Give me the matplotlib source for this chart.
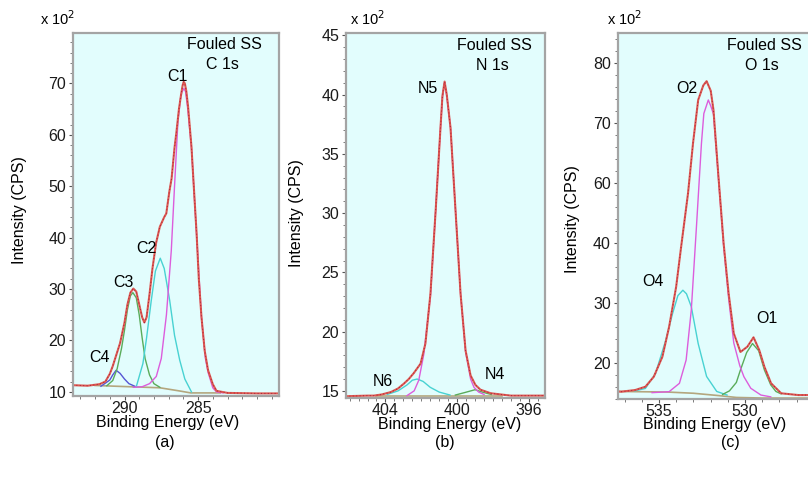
import numpy as np
import matplotlib
matplotlib.use("Agg")
import matplotlib.pyplot as plt
from matplotlib.ticker import MultipleLocator, FixedLocator

plt.rcParams["font.family"] = ["Liberation Sans", "DejaVu Sans"]

# ---------------- panel (a): C 1s ----------------
A_ENV_E = [293.5, 292.5, 291.7, 291.3, 291.0, 290.8, 290.6, 290.3, 290.0, 289.8, 289.6,
           289.4, 289.2, 289.0, 288.8, 288.65, 288.5, 288.3, 288.1, 287.85, 287.6, 287.3,
           287.16, 286.95, 286.8, 286.6, 286.48, 286.3, 286.14, 286.05, 285.98, 285.9,
           285.8, 285.68, 285.45, 285.25, 285.1, 284.95, 284.77, 284.55, 284.32, 284.0,
           283.75, 283.0, 281.0, 279.5]
A_ENV_I = [11.3, 11.2, 11.5, 12.0, 13.5, 15.0, 16.8, 19.5, 23.5, 27.0, 29.3,
           30.1, 29.5, 27.0, 24.5, 23.5, 24.5, 29.0, 34.0, 39.0, 42.1, 44.0,
           44.7, 49.0, 51.5, 57.5, 60.3, 65.0, 68.1, 69.6, 70.3, 70.0,
           68.5, 65.5, 57.7, 48.0, 40.8, 32.0, 24.6, 18.0, 14.2, 11.5,
           10.2, 9.8, 9.7, 9.7]
A_C1_E = [289.4, 288.8, 288.3, 287.84, 287.5, 287.15, 286.82, 286.6, 286.37, 286.2, 286.1,
          285.96, 285.85, 285.7, 285.45, 285.1, 284.77, 284.5, 284.32, 284.0, 283.75, 283.3]
A_C1_I = [10.9, 11.0, 11.6, 13.0, 16.5, 25.0, 37.5, 50.0, 62.5, 67.0, 68.3,
          69.0, 68.4, 65.0, 57.5, 40.5, 24.5, 16.5, 13.8, 10.8, 10.0, 9.8]
A_C2_E = [289.2, 288.75, 288.5, 288.18, 287.9, 287.57, 287.3, 286.93, 286.6, 286.25, 285.9, 285.45]
A_C2_I = [11.0, 15.5, 20.5, 27.8, 33.5, 36.0, 34.0, 27.8, 21.0, 16.2, 12.5, 10.0]
A_C3_E = [291.2, 290.8, 290.5, 290.2, 290.0, 289.8, 289.6, 289.43, 289.2, 289.0, 288.8,
          288.6, 288.3, 288.0, 287.6]
A_C3_I = [11.2, 12.2, 14.5, 18.5, 22.0, 26.0, 28.7, 29.3, 28.3, 25.0, 20.5,
          16.5, 13.3, 11.6, 10.9]
A_C4_E = [291.6, 291.0, 290.8, 290.57, 290.3, 290.0, 289.7, 289.3]
A_C4_I = [11.1, 12.3, 13.3, 14.2, 13.6, 12.5, 11.6, 11.1]
A_BG_E = [292.0, 290.6, 287.6, 286.3, 285.5, 283.5]
A_BG_I = [11.25, 11.1, 10.8, 10.2, 9.8, 9.8]

# ---------------- panel (b): N 1s ----------------
B_ENV_E = [406.2, 405.0, 404.65, 404.2, 403.7, 403.3, 402.98, 402.7, 402.42, 402.04,
           401.77, 401.49, 401.2, 400.93, 400.82, 400.7, 400.58, 400.37, 400.09, 399.81,
           399.53, 399.25, 398.98, 398.7, 398.13, 397.0, 395.1]
B_ENV_I = [14.55, 14.6, 14.6, 14.7, 14.9, 15.2, 15.6, 16.0, 16.5, 17.3,
           19.0, 23.2, 30.2, 37.2, 39.9, 41.1, 40.0, 37.2, 30.2, 23.2,
           18.4, 16.3, 15.5, 15.1, 14.8, 14.6, 14.6]
B_N5_E = [402.8, 402.4, 402.14, 401.86, 401.49, 401.2, 400.93, 400.82, 400.7, 400.58,
          400.37, 400.09, 399.81, 399.53, 399.25, 399.06, 398.8, 398.5]
B_N5_I = [14.6, 15.0, 15.9, 18.1, 23.0, 30.2, 37.2, 39.8, 41.0, 39.9,
          37.2, 30.2, 23.2, 18.3, 16.0, 15.3, 14.9, 14.7]
B_N6_E = [403.9, 403.3, 402.8, 402.5, 402.23, 401.9, 401.5, 401.0, 400.4]
B_N6_I = [14.7, 15.0, 15.5, 15.9, 16.0, 15.8, 15.3, 14.9, 14.65]
B_N4_E = [400.1, 399.6, 399.0, 398.6, 398.1]
B_N4_I = [14.65, 14.85, 15.1, 14.9, 14.7]
B_BG_E = [404.5, 397.5]
B_BG_I = [14.6, 14.6]

# ---------------- panel (c): O 1s ----------------
C_ENV_E = [537.4, 537.2, 536.38, 535.79, 535.3, 534.8, 534.41, 534.0, 533.71, 533.31,
           533.02, 532.72, 532.42, 532.23, 531.99, 531.83, 531.54, 531.24, 530.95, 530.65,
           530.26, 529.86, 529.5, 529.17, 528.87, 528.48, 527.89, 526.9, 526.1]
C_ENV_I = [15.2, 15.16, 15.44, 15.99, 17.66, 21.0, 26.0, 32.69, 39.37, 48.28,
           56.63, 63.86, 66.3, 67.0, 65.4, 62.19, 51.05, 39.93, 31.59, 24.91,
           21.79, 22.67, 24.24, 22.12, 19.33, 16.56, 14.89, 14.6, 14.6]
C_O2_E = [535.4, 534.41, 533.81, 533.42, 533.12, 532.82, 532.53, 532.39, 532.13, 531.98,
          531.83, 531.54, 531.24, 530.95, 530.65, 530.3, 530.06, 529.66, 529.07, 528.5]
C_O2_I = [15.0, 15.16, 16.56, 20.45, 28.8, 42.7, 56.6, 61.6, 63.86, 62.8,
          61.5, 50.8, 39.5, 30.8, 23.3, 19.5, 17.66, 15.73, 14.6, 14.3]
C_O4_E = [536.4, 535.79, 535.2, 534.6, 534.21, 533.9, 533.61, 533.4, 533.12, 532.72,
          532.23, 531.64, 531.04]
C_O4_I = [15.3, 15.7, 18.2, 23.8, 28.2, 31.2, 32.1, 31.5, 29.35, 23.2,
          17.7, 15.2, 14.6]
C_O1_E = [531.3, 530.9, 530.5, 530.26, 529.9, 529.56, 529.2, 528.87, 528.5, 528.2, 527.9]
C_O1_I = [14.7, 15.3, 16.7, 18.8, 21.7, 23.2, 22.0, 18.8, 16.3, 15.2, 14.8]
C_BG_E = [537.4, 534.5, 533.0, 531.5, 530.5, 529.0, 526.1]
C_BG_I = [15.2, 15.1, 14.9, 14.5, 14.2, 14.1, 14.1]
# tick labels as printed on panel (c)
C_YTICK_POS = [20, 30, 40, 50, 60, 70]
C_YTICK_LAB = ["20", "30", "40", "60", "70", "80"]

BG_FILL = "#e2fdfd"
RED = "#dd5a52"
DARKRED = "#a8203c"
MAGENTA = "#dc5ddc"
CYAN = "#48d2d2"
GREEN = "#5aac5a"
BLUE = "#5656d4"
TAN = "#b4a67e"
FS = 11.5

W, H = 808, 483
fig = plt.figure(figsize=(W / 100, H / 100), dpi=100)


def px_axes(left, top, right, bottom):
    return fig.add_axes([left / W, 1 - bottom / H, (right - left) / W, (bottom - top) / H])


def style(ax, xlim, ylim, xmaj, xmin, ymin_step):
    ax.set_facecolor(BG_FILL)
    ax.set_xlim(*xlim)
    ax.set_ylim(*ylim)
    ax.xaxis.set_major_locator(FixedLocator(xmaj))
    ax.xaxis.set_minor_locator(MultipleLocator(xmin))
    ax.yaxis.set_minor_locator(MultipleLocator(ymin_step))
    for s in ax.spines.values():
        s.set_color("#a4a4a4")
        s.set_linewidth(1.6)
    ax.tick_params(which="major", direction="out", length=3, width=0.8, color="#555555",
                   labelsize=FS, labelcolor="#1a1a1a")
    ax.tick_params(axis="x", which="major", pad=0.5)
    ax.tick_params(axis="y", which="major", pad=2)
    ax.tick_params(which="minor", direction="out", length=2, width=0.6, color="#666666")


def draw(ax, env, comps, bg):
    ax.plot(bg[0], bg[1], color=TAN, lw=1.2)
    for (e, i), c in comps:
        ax.plot(e, i, color=c, lw=1.0)
    ax.plot(env[0], env[1], color=RED, lw=1.5)
    ax.plot(env[0], env[1], color=DARKRED, lw=0.7, ls=(0, (1, 2.5)))


# (a)
axa = px_axes(73, 33, 279, 396)
draw(axa, (A_ENV_E, A_ENV_I),
     [((A_C4_E, A_C4_I), BLUE), ((A_C3_E, A_C3_I), GREEN),
      ((A_C2_E, A_C2_I), CYAN), ((A_C1_E, A_C1_I), MAGENTA)],
     (A_BG_E, A_BG_I))
style(axa, (293.5, 279.5), (9.2, 79.8), [290, 285], 1, 2)
axa.set_yticks([10, 20, 30, 40, 50, 60, 70])
for lab, x, y in [("C1", 286.39, 71.4), ("C2", 288.5, 37.8), ("C3", 290.07, 31.3), ("C4", 291.7, 16.75)]:
    axa.text(x, y, lab, fontsize=FS, ha="center", va="center")

# (b)
axb = px_axes(346, 33, 545, 398)
draw(axb, (B_ENV_E, B_ENV_I),
     [((B_N6_E, B_N6_I), CYAN), ((B_N4_E, B_N4_I), GREEN), ((B_N5_E, B_N5_I), MAGENTA)],
     (B_BG_E, B_BG_I))
style(axb, (406.2, 395.1), (14.4, 45.2), [404, 400, 396], 0.5, 1)
axb.set_yticks([15, 20, 25, 30, 35, 40, 45])
for lab, x, y in [("N5", 401.65, 40.5), ("N6", 404.17, 15.8), ("N4", 397.9, 16.4)]:
    axb.text(x, y, lab, fontsize=FS, ha="center", va="center")

# (c)
axc = px_axes(617.7, 33, 812, 399)
draw(axc, (C_ENV_E, C_ENV_I),
     [((C_O4_E, C_O4_I), CYAN), ((C_O1_E, C_O1_I), GREEN), ((C_O2_E, C_O2_I), MAGENTA)],
     (C_BG_E, C_BG_I))
style(axc, (537.4, 526.1), (13.94, 75.04), [535, 530], 1, 2)
axc.set_yticks(C_YTICK_POS)
axc.set_yticklabels(C_YTICK_LAB)
for lab, x, y in [("O2", 533.36, 65.7), ("O4", 535.34, 33.6), ("O1", 528.73, 27.3)]:
    axc.text(x, y, lab, fontsize=FS, ha="center", va="center")

# panel headers, axis labels
for ax, core, xf in [(axa, "C 1s", 0.733), (axb, "N 1s", 0.744), (axc, "O 1s", 0.753)]:
    ax.text(xf, 0.967, "Fouled SS", transform=ax.transAxes, fontsize=FS, ha="center", va="center")
    ax.text(xf - 0.01, 0.912, core, transform=ax.transAxes, fontsize=FS, ha="center", va="center")

for xc in [58, 368, 625]:
    fig.text(xc / W, 1 - 19 / H, r"x 10$^2$", fontsize=FS - 1, ha="center", va="center")
for xc, yc in [(20, 210), (297, 213), (572, 219)]:
    fig.text(xc / W, 1 - yc / H, "Intensity (CPS)", rotation=90, fontsize=FS, ha="center", va="center")
for xc, yc in [(168, 422), (450, 424), (715, 425)]:
    fig.text(xc / W, 1 - yc / H, "Binding Energy (eV)", fontsize=FS, ha="center", va="center")
for xc, lab in [(165, "(a)"), (445, "(b)"), (730, "(c)")]:
    fig.text(xc / W, 1 - 442 / H, lab, fontsize=FS, ha="center", va="center")

fig.savefig("out.png", dpi=100, facecolor="white")
